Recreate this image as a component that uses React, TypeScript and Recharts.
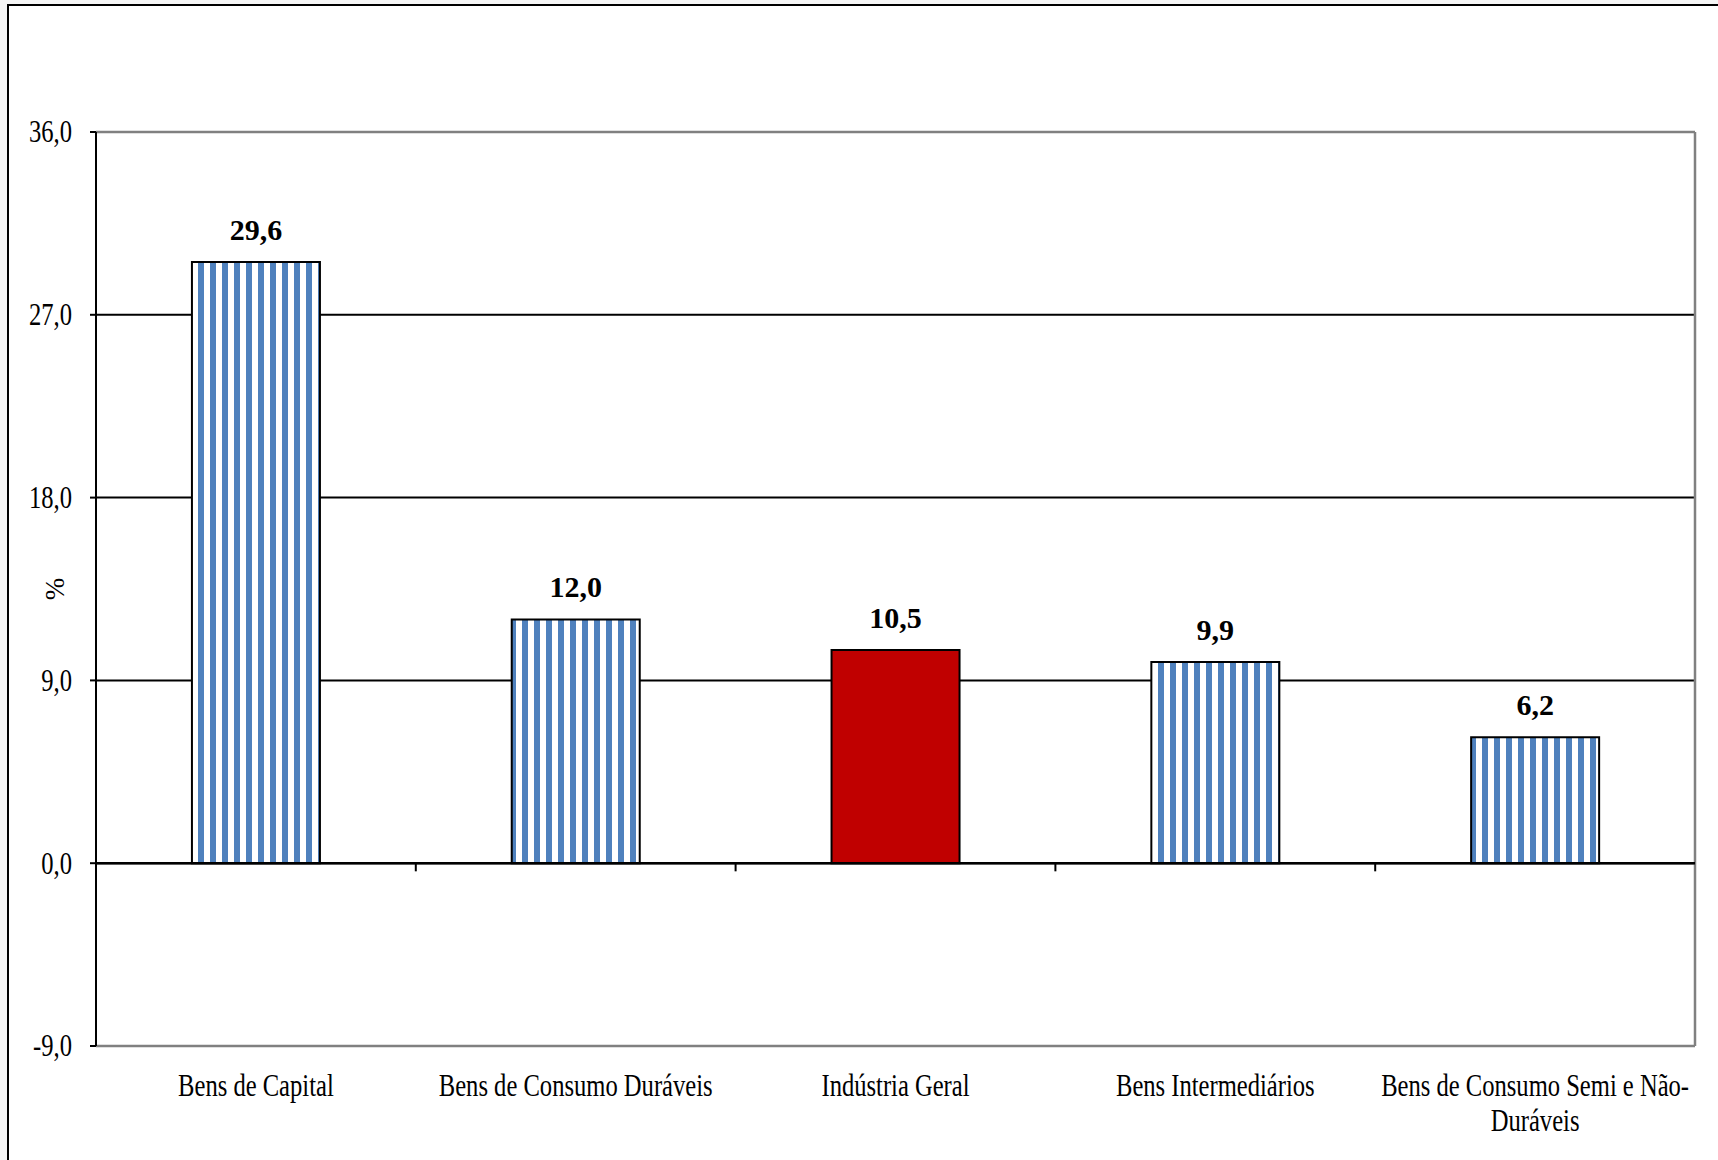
import React from 'react';
import { BarChart, Bar, XAxis, YAxis, CartesianGrid, ReferenceLine, LabelList, Cell } from 'recharts';

// categories and values (% change)
const categories = [
  'Bens de Capital',
  'Bens de Consumo Duráveis',
  'Indústria Geral',
  'Bens Intermediários',
  'Bens de Consumo Semi e Não-Duráveis',
];
const values = [29.6, 12.0, 10.5, 9.9, 6.2];
const yTicks = [-9, 0, 9, 18, 27, 36];
const highlighted = 'Indústria Geral';

const chartData = categories.map((name, i) => ({ name, value: values[i] }));

const fmt = (v: number) => v.toFixed(1).replace('.', ',');

const SERIF = '"Liberation Serif", "DejaVu Serif", serif';

// break long names at spaces and after hyphens
const wrap = (text: string, maxChars: number) => {
  const tokens = text.match(/[^\s-]+-?|\s+/g) || [];
  const lines: string[] = [];
  let cur = '';
  tokens.forEach(t => {
    if ((cur + t).trim().length > maxChars && cur.trim()) {
      lines.push(cur.trim());
      cur = t.trim();
    } else {
      cur += t;
    }
  });
  if (cur.trim()) lines.push(cur.trim());
  return lines;
};

const XTick = (props: any) => {
  const { x, y, payload } = props;
  const lines = wrap(payload.value, 28);
  return (
    <g transform={`translate(${x},${y})`}>
      <text transform="scale(0.82,1.03)" textAnchor="middle" fontFamily={SERIF} fontSize={30} fill="#000">
        {lines.map((l, i) => (
          <tspan key={i} x={0} dy={i === 0 ? 41 : 34}>{l}</tspan>
        ))}
      </text>
    </g>
  );
};

const YTick = (props: any) => {
  const { x, y, payload } = props;
  return (
    <g transform={`translate(${x},${y})`}>
      <text transform="scale(0.82,1.03)" textAnchor="end" dy={10} fontFamily={SERIF} fontSize={30} fill="#000">
        {fmt(payload.value)}
      </text>
    </g>
  );
};

const YLabel = (props: any) => {
  const { viewBox } = props;
  const cx = viewBox.x + 19;
  const cy = viewBox.y + viewBox.height / 2;
  return (
    <text x={cx} y={cy} transform={`rotate(-90 ${cx} ${cy})`} textAnchor="middle" dominantBaseline="central"
      fontFamily={SERIF} fontSize={27} fill="#000">%</text>
  );
};

const App: React.FC = () => {
  return (
    <div style={{ position: 'absolute', left: 0, top: 0, width: 1718, height: 1160, overflow: 'hidden', background: '#f5f5f5' }}>
      <div style={{ position: 'absolute', left: 7, top: 4, width: 1800, height: 1300, border: '2.5px solid #000', background: '#fff' }} />
      <div style={{ position: 'absolute', left: 0, top: 0 }}>
        <BarChart
          width={1718}
          height={1160}
          data={chartData}
          margin={{ top: 132, right: 23, bottom: 54, left: 36 }}
          barCategoryGap="30%"
        >
          <defs>
            <pattern id="stripes" patternUnits="userSpaceOnUse" x={0} y={0} width={12} height={12}>
              <rect x={0} y={0} width={12} height={12} fill="#fff" />
              <rect x={6} y={0} width={6} height={12} fill="#4F81BD" />
            </pattern>
          </defs>
          <CartesianGrid vertical={false} stroke="#000" strokeWidth={2} strokeDasharray="" />
          <XAxis
            dataKey="name"
            height={60}
            axisLine={false}
            tickLine={false}
            interval={0}
            tick={<XTick />}
          />
          <YAxis
            width={60}
            domain={[-9, 36]}
            ticks={yTicks}
            allowDataOverflow
            axisLine={{ stroke: '#000', strokeWidth: 2 }}
            tickLine={{ stroke: '#000', strokeWidth: 2 }}
            tickSize={6}
            tickMargin={18}
            tick={<YTick />}
            label={<YLabel />}
          />
          <ReferenceLine y={36} stroke="#808080" strokeWidth={2.5} />
          <ReferenceLine y={-9} stroke="#808080" strokeWidth={2.5} />
          <ReferenceLine x={categories[categories.length - 1]} position="end" stroke="#808080" strokeWidth={2.5} />
          <Bar dataKey="value" stroke="#000" strokeWidth={2} isAnimationActive={false}>
            {chartData.map(d => (
              <Cell key={d.name} fill={d.name === highlighted ? '#C00000' : 'url(#stripes)'} />
            ))}
            <LabelList
              dataKey="value"
              position="top"
              offset={22}
              formatter={(v: any) => fmt(Number(v))}
              style={{ fontFamily: SERIF, fontSize: 30, fontWeight: 700, fill: '#000' }}
            />
          </Bar>
          <ReferenceLine y={0} stroke="#000" strokeWidth={2.5} />
          {categories.slice(1).map(c => (
            <ReferenceLine
              key={c}
              segment={[{ x: c, y: 0 }, { x: c, y: -0.4 }]}
              position="start"
              stroke="#000"
              strokeWidth={2}
            />
          ))}
        </BarChart>
      </div>
    </div>
  );
};

export default App;
